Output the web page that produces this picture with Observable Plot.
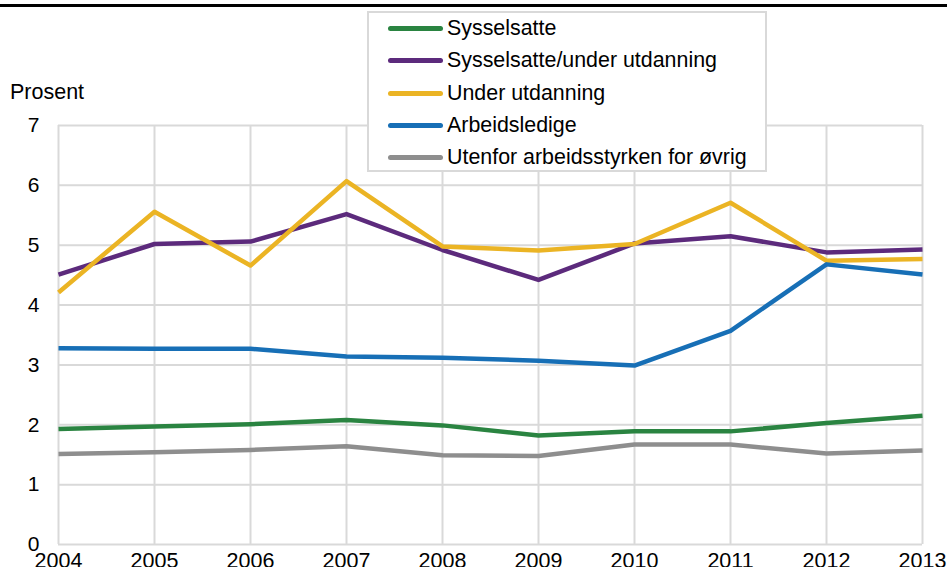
<!DOCTYPE html>
<html>
<head>
<meta charset="utf-8">
<script src="https://cdn.jsdelivr.net/npm/d3@7"></script>
<script src="https://cdn.jsdelivr.net/npm/@observablehq/plot@0.6"></script>
<style>
  html, body { margin: 0; padding: 0; background: #fff; }
  #wrap { position: relative; width: 947px; height: 567px; overflow: hidden; font-family: "Liberation Sans", Arial, sans-serif; }
  #topbar { position: absolute; left: 0; top: 4px; width: 947px; height: 3px; background: #000; }
  #ylabel { position: absolute; left: 10px; top: 80px; font-size: 21.5px; color: #000; }
  #legend { position: absolute; left: 367px; top: 11px; width: 396px; height: 157px; background: #fff; border: 2px solid #d9d9d9; }
  .item { position: absolute; left: 0; height: 24px; display: flex; align-items: center; font-size: 21.4px; color: #000; white-space: nowrap; }
  .sw { width: 55px; height: 5px; border-radius: 3px; margin-left: 19px; margin-right: 4px; }
  svg { position: absolute; left: 0; top: 0; }
</style>
</head>
<body>
<div id="wrap">
  <div id="chart"></div>
  <div id="topbar"></div>
  <div id="ylabel">Prosent</div>
  <div id="legend"></div>
</div>
<script>
const years = [2004, 2005, 2006, 2007, 2008, 2009, 2010, 2011, 2012, 2013];
const seriesNames = ["Sysselsatte", "Sysselsatte/under utdanning", "Under utdanning", "Arbeidsledige", "Utenfor arbeidsstyrken for øvrig"];
const seriesColors = ["#2a8441", "#5c2a7c", "#ebb424", "#176fb6", "#8e8e8e"];
const sysselsatte = [1.93, 1.97, 2.01, 2.08, 1.99, 1.82, 1.89, 1.89, 2.03, 2.15];
const sysselsatteUnder = [4.51, 5.02, 5.06, 5.52, 4.92, 4.42, 5.03, 5.15, 4.88, 4.93];
const underUtdanning = [4.21, 5.56, 4.66, 6.07, 4.98, 4.91, 5.02, 5.71, 4.74, 4.77];
const arbeidsledige = [3.28, 3.27, 3.27, 3.14, 3.12, 3.07, 2.99, 3.57, 4.68, 4.51];
const utenfor = [1.51, 1.54, 1.58, 1.64, 1.49, 1.48, 1.67, 1.67, 1.52, 1.57];
const yTicks = [0, 1, 2, 3, 4, 5, 6, 7];

const seriesValues = [sysselsatte, sysselsatteUnder, underUtdanning, arbeidsledige, utenfor];
const data = [];
seriesNames.forEach((name, i) => {
  years.forEach((yr, j) => data.push({series: name, year: yr, value: seriesValues[i][j]}));
});

const chart = Plot.plot({
  width: 947,
  height: 567,
  marginLeft: 58,
  marginRight: 25,
  marginTop: 125,
  marginBottom: 23,
  style: {fontFamily: "'Liberation Sans', Arial, sans-serif", fontSize: "21px", color: "#000", background: "transparent", overflow: "visible"},
  x: {domain: [2004, 2013], label: null},
  y: {domain: [0, 7], label: null},
  color: {domain: seriesNames, range: seriesColors},
  marks: [
    Plot.gridX(years, {stroke: "#d9d9d9", strokeOpacity: 1, strokeWidth: 2}),
    Plot.gridY(yTicks, {stroke: "#d9d9d9", strokeOpacity: 1, strokeWidth: 2}),
    Plot.axisY(yTicks, {tickSize: 0, tickPadding: 19, fontSize: 21, tickFormat: d => String(d)}),
    Plot.axisX(years, {tickSize: 0, tickPadding: 8, fontSize: 21.5, tickFormat: d => String(d)}),
    ...seriesNames.map(name => Plot.line(data.filter(d => d.series === name), {
      x: "year", y: "value", stroke: "series", strokeWidth: 4.5, strokeLinejoin: "round", strokeLinecap: "butt"
    }))
  ]
});
document.getElementById("chart").appendChild(chart);

const legend = document.getElementById("legend");
const centers = [15, 47.5, 80, 112, 144.5];
seriesNames.forEach((name, i) => {
  const it = document.createElement("div");
  it.className = "item";
  it.style.top = (centers[i] - 12) + "px";
  const sw = document.createElement("div");
  sw.className = "sw";
  sw.style.background = seriesColors[i];
  const tx = document.createElement("span");
  tx.textContent = name;
  it.appendChild(sw);
  it.appendChild(tx);
  legend.appendChild(it);
});
</script>
</body>
</html>
